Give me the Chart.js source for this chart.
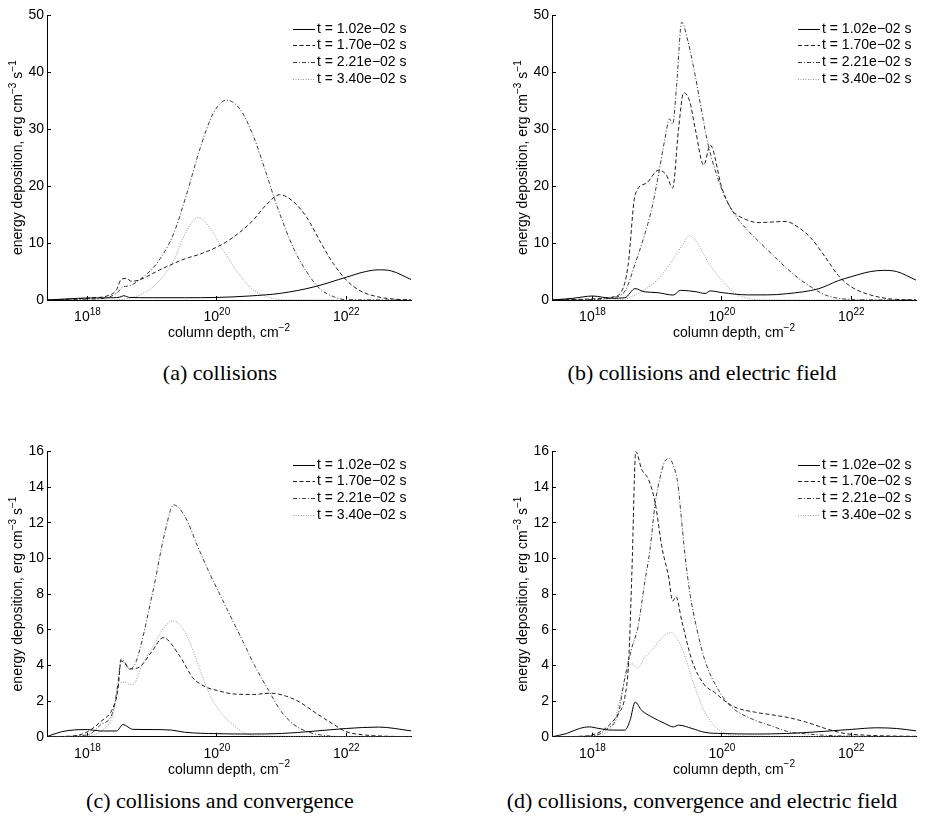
<!DOCTYPE html>
<html>
<head>
<meta charset="utf-8">
<script src="https://cdn.jsdelivr.net/npm/chart.js@4.4.0/dist/chart.umd.min.js"></script>
<style>
  body { margin: 0; background: #fff; }
  #fig { position: relative; width: 935px; height: 825px; }
  canvas { position: absolute; }
  .cap {
    position: absolute; width: 440px; text-align: center; line-height: 1;
    font: 22px "Liberation Serif", "Times New Roman", serif; color: #000;
  }
</style>
</head>
<body>
<div id="fig">
  <canvas id="chartA" width="465" height="350" style="left:0;top:0"></canvas>
  <canvas id="chartB" width="465" height="350" style="left:465px;top:0"></canvas>
  <canvas id="chartC" width="465" height="350" style="left:0;top:436px"></canvas>
  <canvas id="chartD" width="465" height="350" style="left:465px;top:436px"></canvas>
  <div class="cap" style="left:0;top:360px">(a) collisions</div>
  <div class="cap" style="left:482px;top:360px">(b) collisions and electric field</div>
  <div class="cap" style="left:0;top:788px">(c) collisions and convergence</div>
  <div class="cap" style="left:482px;top:788px">(d) collisions, convergence and electric field</div>
</div>
<script>
// x = log10(column depth / cm^-2), y = energy deposition (erg cm^-3 s^-1)
const SERIES_LABELS = ['t = 1.02e\u221202 s', 't = 1.70e\u221202 s', 't = 2.21e\u221202 s', 't = 3.40e\u221202 s'];
const X_TICK_EXPONENTS = [18, 20, 22];
const LOG_MIN = 17.375;
const LOG_MAX = 23;

// (a) collisions
const aLog1 = [17.37, 17.7, 18.0, 18.4, 18.5, 18.56, 18.65, 19.0, 19.5, 20.0, 20.5, 21.0, 21.5, 22.0, 22.3, 22.5, 22.7, 23.0];
const aVal1 = [0, 0.2, 0.35, 0.4, 0.5, 0.75, 0.45, 0.4, 0.4, 0.45, 0.7, 1.2, 2.3, 4.0, 5.0, 5.3, 5.1, 3.6];
const aLog2 = [17.37, 17.8, 18.1, 18.3, 18.45, 18.52, 18.6, 18.68, 18.8, 19.0, 19.12, 19.5, 19.75, 20.0, 20.25, 20.55, 20.77, 20.97, 21.18, 21.39, 21.59, 21.8, 22.0, 22.2, 22.47, 22.75, 23.0];
const aVal2 = [0, 0.2, 0.4, 0.7, 1.8, 3.6, 3.8, 3.3, 3.5, 4.6, 5.3, 7.2, 8.1, 9.3, 11.0, 13.9, 16.8, 18.5, 17.3, 14.5, 10.4, 6.4, 3.5, 1.7, 0.6, 0.15, 0];
const aLog3 = [17.37, 18.0, 18.3, 18.45, 18.55, 18.65, 18.81, 19.07, 19.33, 19.53, 19.74, 19.94, 20.15, 20.36, 20.56, 20.77, 20.92, 21.18, 21.39, 21.59, 21.8, 22.0, 23.0];
const aVal3 = [0, 0.15, 0.4, 1.2, 2.3, 2.5, 3.6, 6.4, 11.6, 18.5, 26.6, 32.7, 35.1, 33.5, 28.9, 22.0, 16.8, 9.2, 4.9, 2.0, 0.6, 0.05, 0];
const aLog4 = [17.37, 18.3, 18.6, 18.81, 19.07, 19.33, 19.53, 19.71, 19.89, 20.1, 20.3, 20.51, 20.77, 21.03, 23.0];
const aVal4 = [0, 0, 0.2, 0.9, 2.9, 6.9, 12.1, 14.5, 12.7, 8.7, 5.2, 2.3, 0.6, 0.05, 0];

// (b) collisions and electric field
const bLog1 = [17.38, 17.7, 18.0, 18.3, 18.5, 18.66, 18.8, 19.0, 19.25, 19.36, 19.6, 19.74, 19.82, 20.0, 20.4, 20.7, 21.0, 21.5, 21.8, 22.0, 22.3, 22.5, 22.7, 23.0];
const bVal1 = [0, 0.3, 0.7, 0.3, 0.4, 2.0, 1.45, 1.3, 0.87, 1.7, 1.45, 1.15, 1.6, 1.3, 0.9, 0.9, 1.1, 2.0, 3.4, 4.1, 5.0, 5.2, 5.0, 3.5];
const bLog2 = [17.38, 18.0, 18.3, 18.45, 18.55, 18.66, 18.83, 19.02, 19.14, 19.24, 19.33, 19.41, 19.5, 19.59, 19.72, 19.82, 20.0, 20.15, 20.36, 20.57, 20.98, 21.19, 21.39, 21.6, 21.8, 22.0, 22.3, 22.6, 23.0];
const bVal2 = [0, 0.2, 0.5, 1.5, 6.0, 18.5, 20.5, 22.8, 22.0, 19.7, 30.0, 36.4, 35.0, 30.0, 23.7, 27.2, 19.7, 15.9, 14.2, 13.6, 13.8, 12.7, 10.7, 7.5, 4.3, 2.3, 0.87, 0.2, 0];
const bLog3 = [17.38, 18.0, 18.3, 18.51, 18.66, 18.81, 18.92, 19.02, 19.12, 19.19, 19.24, 19.3, 19.38, 19.46, 19.59, 19.69, 19.79, 20.0, 20.2, 20.42, 20.67, 20.98, 21.19, 21.39, 21.6, 21.8, 22.1, 23.0];
const bVal3 = [0, 0.1, 0.4, 1.7, 6.4, 11.6, 16.2, 22.0, 28.3, 31.8, 30.9, 37.6, 48.8, 46.2, 39.3, 33.0, 27.2, 19.4, 15.0, 12.0, 9.2, 5.8, 3.76, 2.2, 0.87, 0.3, 0.05, 0];
const bLog4 = [17.38, 18.4, 18.71, 19.0, 19.2, 19.4, 19.5, 19.6, 19.8, 20.0, 20.2, 20.4, 20.6, 23.0];
const bVal4 = [0, 0, 1.2, 3.5, 6.4, 9.8, 11.3, 10.4, 6.4, 3.5, 1.2, 0.3, 0.02, 0];

// (c) collisions and convergence
const cLog1 = [17.37, 17.6, 17.8, 18.0, 18.2, 18.45, 18.55, 18.7, 19.0, 19.3, 19.5, 20.0, 20.5, 21.0, 21.5, 22.0, 22.5, 23.0];
const cVal1 = [0, 0.28, 0.38, 0.4, 0.32, 0.32, 0.68, 0.41, 0.4, 0.37, 0.25, 0.17, 0.15, 0.18, 0.31, 0.46, 0.54, 0.33];
const cLog2 = [17.37, 17.8, 18.0, 18.2, 18.4, 18.47, 18.52, 18.58, 18.65, 18.8, 19.0, 19.17, 19.43, 19.63, 19.84, 20.0, 20.25, 20.56, 20.84, 21.08, 21.28, 21.54, 21.8, 22.0, 22.3, 22.6, 23.0];
const cVal2 = [0, 0.05, 0.28, 0.83, 1.66, 2.6, 4.25, 4.1, 3.8, 3.9, 4.8, 5.55, 4.5, 3.3, 2.77, 2.6, 2.4, 2.37, 2.44, 2.26, 1.94, 1.3, 0.7, 0.28, 0.09, 0.03, 0];
const cLog3 = [17.37, 18.0, 18.2, 18.4, 18.47, 18.52, 18.58, 18.65, 18.75, 19.0, 19.2, 19.33, 19.5, 19.7, 19.9, 20.0, 20.2, 20.4, 20.6, 20.8, 21.0, 21.2, 21.4, 21.6, 22.0, 23.0];
const cVal3 = [0, 0.1, 0.65, 1.48, 2.96, 4.35, 4.16, 3.8, 4.2, 7.95, 11.5, 13.0, 12.4, 10.7, 9.06, 8.32, 6.84, 5.36, 3.88, 2.59, 1.39, 0.65, 0.28, 0.1, 0, 0];
const cLog4 = [17.37, 18.0, 18.2, 18.4, 18.48, 18.55, 18.7, 18.85, 19.0, 19.2, 19.33, 19.53, 19.69, 19.84, 20.0, 20.2, 20.4, 20.6, 23.0];
const cVal4 = [0, 0.05, 0.3, 1.3, 2.96, 3.05, 2.92, 4.07, 5.0, 6.2, 6.5, 5.7, 4.25, 2.77, 1.66, 0.83, 0.28, 0.05, 0];

// (d) collisions, convergence and electric field
const dLog1 = [17.38, 17.6, 17.8, 17.95, 18.1, 18.3, 18.5, 18.58, 18.66, 18.76, 18.92, 19.12, 19.25, 19.33, 19.54, 19.74, 20.0, 20.5, 21.0, 21.5, 22.0, 22.4, 22.7, 23.0];
const dVal1 = [0, 0.18, 0.46, 0.55, 0.46, 0.37, 0.37, 0.9, 1.94, 1.48, 1.1, 0.74, 0.55, 0.65, 0.46, 0.24, 0.18, 0.15, 0.18, 0.28, 0.41, 0.5, 0.46, 0.33];
const dLog2 = [17.38, 17.8, 18.0, 18.2, 18.4, 18.5, 18.56, 18.61, 18.67, 18.76, 18.87, 18.97, 19.07, 19.18, 19.24, 19.29, 19.38, 19.54, 19.72, 19.92, 20.0, 20.2, 20.52, 20.82, 21.03, 21.29, 21.6, 21.9, 22.2, 22.6, 23.0];
const dVal2 = [0, 0.02, 0.1, 0.46, 1.3, 2.2, 4.25, 9.25, 16.0, 15.0, 14.4, 13.1, 10.7, 8.9, 7.6, 7.86, 6.5, 4.25, 2.96, 2.4, 2.13, 1.66, 1.37, 1.2, 1.07, 0.83, 0.46, 0.18, 0.09, 0.04, 0.02];
const dLog3 = [17.38, 18.0, 18.2, 18.4, 18.5, 18.61, 18.7, 18.81, 18.89, 18.97, 19.05, 19.12, 19.19, 19.25, 19.32, 19.37, 19.43, 19.51, 19.61, 19.74, 19.95, 20.15, 20.46, 20.77, 21.03, 21.39, 21.8, 23.0];
const dVal3 = [0, 0.05, 0.37, 1.3, 3.3, 5.0, 6.1, 8.7, 10.5, 13.1, 14.6, 15.45, 15.6, 15.2, 14.2, 12.4, 10.2, 7.95, 6.1, 4.25, 2.6, 1.66, 1.0, 0.6, 0.28, 0.13, 0.05, 0];
const dLog4 = [17.38, 17.9, 18.1, 18.3, 18.45, 18.52, 18.6, 18.7, 18.8, 18.95, 19.1, 19.22, 19.3, 19.4, 19.55, 19.7, 19.85, 20.0, 20.2, 23.0];
const dVal4 = [0, 0, 0.1, 0.55, 2.4, 3.5, 4.1, 3.85, 4.4, 5.0, 5.64, 5.83, 5.55, 4.8, 3.14, 1.66, 0.74, 0.28, 0.05, 0];

const LINE_COLORS = ['#000000', '#1e1e1e', '#3c3c3c', '#9a9a9a'];
const LINE_DASHES = [[], [4, 2.5], [4, 2, 1, 2], [1, 1.5]];
const FONT_FAMILY = "'Liberation Sans', Arial, sans-serif";
const BASE_FONT = '14px ' + FONT_FAMILY;
const SUP_FONT = '10px ' + FONT_FAMILY;

function toPoints(logs, vals) {
    return logs.map((l, i) => ({ x: Math.pow(10, l), y: vals[i] }));
}

// text pieces with superscripts: [[text, isSup], ...]
function drawRich(ctx, parts, x, y, center) {
    let w = 0;
    parts.forEach(([t, sup]) => {
        ctx.font = sup ? SUP_FONT : BASE_FONT;
        w += ctx.measureText(t).width;
    });
    let cx = center ? x - w / 2 : x;
    parts.forEach(([t, sup]) => {
        ctx.font = sup ? SUP_FONT : BASE_FONT;
        ctx.fillText(t, cx, sup ? y - 6.5 : y);
        cx += ctx.measureText(t).width;
    });
}

const annotate = {
    id: 'annotate',
    afterDraw(chart) {
        const { ctx, chartArea: a } = chart;
        const xs = chart.scales.x;
        ctx.save();
        ctx.fillStyle = '#000';
        ctx.textAlign = 'left';
        ctx.textBaseline = 'alphabetic';

        X_TICK_EXPONENTS.forEach(e => {
            drawRich(ctx, [['10', false], [String(e), true]], xs.getPixelForValue(Math.pow(10, e)), a.bottom + 21, true);
        });
        drawRich(ctx, [['column depth, cm', false], ['\u22122', true]], (a.left + a.right) / 2, a.bottom + 37, true);

        ctx.save();
        ctx.translate(a.left - 25, (a.top + a.bottom) / 2);
        ctx.rotate(-Math.PI / 2);
        drawRich(ctx, [['energy deposition, erg cm', false], ['\u22123', true], [' s', false], ['\u22121', true]], 0, 0, true);
        ctx.restore();

        // legend inside the axes, top right
        chart.data.datasets.forEach((ds, i) => {
            const y = Math.round(a.top + 13.3 + i * 16.7) + 0.5;
            ctx.strokeStyle = ds.borderColor;
            ctx.lineWidth = 1;
            ctx.setLineDash(ds.borderDash);
            ctx.beginPath();
            ctx.moveTo(a.right - 118, y);
            ctx.lineTo(a.right - 96, y);
            ctx.stroke();
            ctx.setLineDash([]);
            ctx.font = BASE_FONT;
            ctx.textBaseline = 'middle';
            ctx.fillText(ds.label, a.right - 94, y);
        });
        ctx.restore();
    }
};

const PANELS = [
    { id: 'chartA', yMax: 50, yStep: 10, logs: [aLog1, aLog2, aLog3, aLog4], vals: [aVal1, aVal2, aVal3, aVal4], pad: { left: 0, right: 54, top: 11.7, bottom: 10 } },
    { id: 'chartB', yMax: 50, yStep: 10, logs: [bLog1, bLog2, bLog3, bLog4], vals: [bVal1, bVal2, bVal3, bVal4], pad: { left: 40, right: 14, top: 11.7, bottom: 10 } },
    { id: 'chartC', yMax: 16, yStep: 2, logs: [cLog1, cLog2, cLog3, cLog4], vals: [cVal1, cVal2, cVal3, cVal4], pad: { left: 0, right: 54, top: 12.3, bottom: 9.3 } },
    { id: 'chartD', yMax: 16, yStep: 2, logs: [dLog1, dLog2, dLog3, dLog4], vals: [dVal1, dVal2, dVal3, dVal4], pad: { left: 40, right: 14, top: 12.3, bottom: 9.3 } }
];

PANELS.forEach(p => {
    new Chart(document.getElementById(p.id), {
        type: 'line',
        data: {
            datasets: SERIES_LABELS.map((label, i) => ({
                label: label,
                data: toPoints(p.logs[i], p.vals[i]),
                borderColor: LINE_COLORS[i],
                borderDash: LINE_DASHES[i],
                borderWidth: 1,
                pointRadius: 0,
                fill: false,
                cubicInterpolationMode: 'monotone'
            }))
        },
        options: {
            responsive: false,
            animation: false,
            layout: { padding: p.pad },
            plugins: { legend: { display: false }, tooltip: { enabled: false } },
            scales: {
                x: {
                    type: 'logarithmic',
                    min: Math.pow(10, LOG_MIN),
                    max: Math.pow(10, LOG_MAX),
                    afterBuildTicks: s => { s.ticks = X_TICK_EXPONENTS.map(e => ({ value: Math.pow(10, e) })); },
                    afterFit: s => { s.height = 40; },
                    ticks: { display: false },
                    grid: { drawOnChartArea: false, drawTicks: true, tickLength: -4, color: '#000' },
                    border: { display: true, color: '#000', width: 1 }
                },
                y: {
                    min: 0,
                    max: p.yMax,
                    afterFit: s => { s.width = 47; },
                    ticks: { stepSize: p.yStep, color: '#000', padding: 7, font: { family: FONT_FAMILY, size: 14 } },
                    grid: { drawOnChartArea: false, drawTicks: true, tickLength: -4, color: '#000' },
                    border: { display: true, color: '#000', width: 1 }
                }
            }
        },
        plugins: [annotate]
    });
});
</script>
</body>
</html>
